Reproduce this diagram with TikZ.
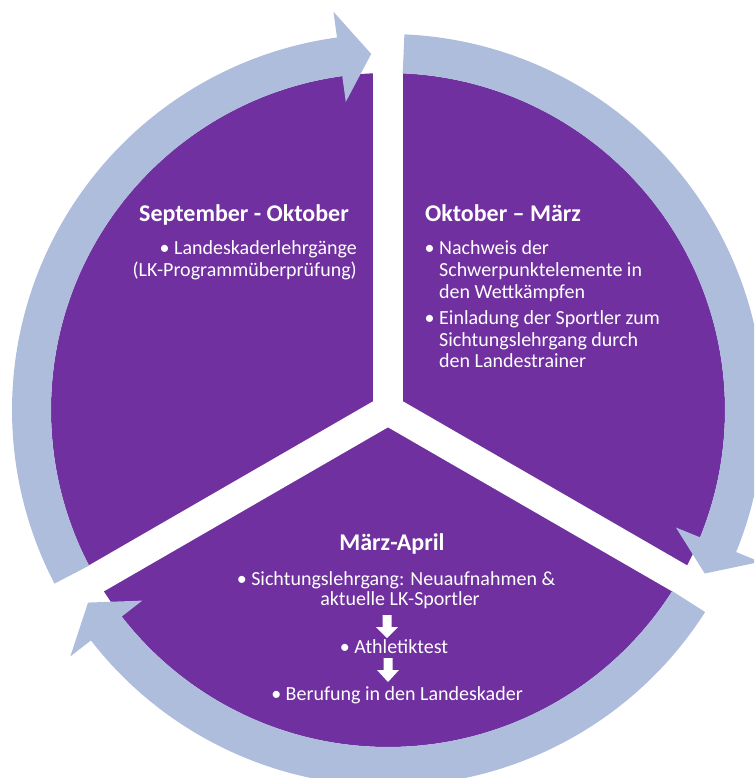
\documentclass[tikz,border=0pt]{standalone}
\usepackage{fontspec}
\setmainfont{Carlito}
\definecolor{lkpurple}{RGB}{112,48,160}
\definecolor{lkring}{RGB}{175,189,221}
\tikzset{
  ttl/.style={text=white, font=\fontsize{24}{29}\selectfont\bfseries, inner sep=0pt},
  txt/.style={text=white, font=\fontsize{20}{24}\selectfont, inner sep=0pt},
  ringarrow/.style={fill=lkring, draw=none},
  gapline/.style={draw=white, line width=30pt},
  blockdown/.style={fill=white, draw=none},
}
\newcommand{\bul}{\makebox[14.5pt][l]{•}}
\begin{document}
\begin{tikzpicture}
\useasboundingbox (-388pt,-368pt) rectangle (366pt,410pt);
\clip (-388pt,-368pt) rectangle (366pt,410pt);
% purple disk
\coordinate (c) at (0,0);
\fill[lkpurple] (c) circle[radius=337pt];
% white gaps
\coordinate (g1) at (90:350pt);
\coordinate (g2) at (210:350pt);
\coordinate (g3) at (330:350pt);
\draw[gapline] (c) -- (g1);
\draw[gapline] (c) -- (g2);
\draw[gapline] (c) -- (g3);
% ring arrows
\fill[ringarrow] (207.5:376pt) arc[start angle=207.5, end angle=97.8, radius=376pt]
  -- (97.8:402pt) -- (92.7:356.5pt) -- (97.8:311pt) -- (97.8:337pt)
  arc[start angle=97.8, end angle=207.5, radius=337pt] -- cycle;
\fill[ringarrow] (87.5:376pt) arc[start angle=87.5, end angle=-22.2, radius=376pt]
  -- (-22.2:402pt) -- (-27.3:356.5pt) -- (-22.2:311pt) -- (-22.2:337pt)
  arc[start angle=-22.2, end angle=87.5, radius=337pt] -- cycle;
\fill[ringarrow] (-32.5:376pt) arc[start angle=-32.5, end angle=-142.2, radius=376pt]
  -- (-142.2:402pt) -- (-147.3:356.5pt) -- (-142.2:311pt) -- (-142.2:337pt)
  arc[start angle=-142.2, end angle=-32.5, radius=337pt] -- cycle;
% left sector text
\node[ttl, anchor=base] (t1) at (-144pt,188pt) {September - Oktober};
\node[txt, anchor=base east] (l1a) at (-31pt,155pt) {• Landeskaderlehrgänge};
\node[txt, anchor=base east] (l1b) at (-31pt,133pt) {(LK-Programmüberprüfung)};
% right sector text
\node[ttl, anchor=base west] (t2) at (37pt,188pt) {Oktober – März};
\node[txt, anchor=base west] (r1a) at (36.5pt,155pt) {\bul Nachweis der};
\node[txt, anchor=base west] (r1b) at (51pt,133pt) {Schwerpunktelemente in};
\node[txt, anchor=base west] (r1c) at (51pt,111pt) {den Wettkämpfen};
\node[txt, anchor=base west] (r2a) at (36.5pt,85pt) {\bul Einladung der Sportler zum};
\node[txt, anchor=base west] (r2b) at (51pt,63pt) {Sichtungslehrgang durch};
\node[txt, anchor=base west] (r2c) at (51pt,42pt) {den Landestrainer};
% bottom sector text
\node[ttl, anchor=base] (t3) at (4pt,-140pt) {März-April};
\node[txt, anchor=base] (b1a) at (8pt,-175pt) {• Sichtungslehrgang: Neuaufnahmen \&};
\node[txt, anchor=base] (b1b) at (12pt,-195pt) {aktuelle LK-Sportler};
\node[txt, anchor=base] (b2) at (6pt,-243pt) {• Athletiktest};
\node[txt, anchor=base] (b3) at (9pt,-290pt) {• Berufung in den Landeskader};
% block down arrows
\fill[blockdown] (-5.5pt,-205pt) -- (3.5pt,-205pt) -- (3.5pt,-217pt) -- (10pt,-217pt)
  -- (-1pt,-228pt) -- (-12pt,-217pt) -- (-5.5pt,-217pt) -- cycle;
\fill[blockdown] (-4.5pt,-248pt) -- (4.5pt,-248pt) -- (4.5pt,-260pt) -- (11pt,-260pt)
  -- (0pt,-272pt) -- (-11pt,-260pt) -- (-4.5pt,-260pt) -- cycle;
\end{tikzpicture}
\end{document}
